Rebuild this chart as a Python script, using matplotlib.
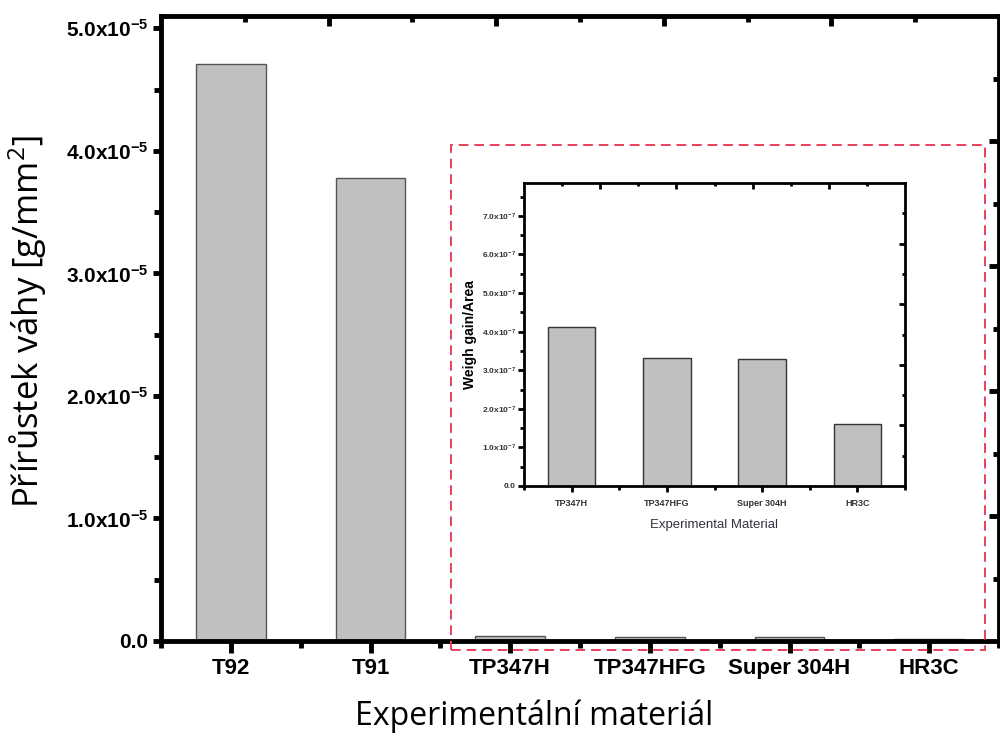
import numpy as np
import matplotlib
matplotlib.use("Agg")
import matplotlib.pyplot as plt
from matplotlib.patches import Rectangle

plt.rcParams["mathtext.default"] = "regular"

# main chart data
materials = ["T92", "T91", "TP347H", "TP347HFG", "Super 304H", "HR3C"]
gain = [4.71e-5, 3.78e-5, 4.12e-7, 3.32e-7, 3.29e-7, 1.61e-7]
yticks = [0, 1e-5, 2e-5, 3e-5, 4e-5, 5e-5]
ytick_labels = ["0.0", "1.0x10$^{-5}$", "2.0x10$^{-5}$", "3.0x10$^{-5}$",
                "4.0x10$^{-5}$", "5.0x10$^{-5}$"]

# inset data
inset_materials = ["TP347H", "TP347HFG", "Super 304H", "HR3C"]
inset_gain = [4.12e-7, 3.32e-7, 3.29e-7, 1.61e-7]
inset_yticks = [0, 1e-7, 2e-7, 3e-7, 4e-7, 5e-7, 6e-7, 7e-7]
inset_ytick_labels = ["0.0"] + [f"{v}.0x10$^{{-7}}$" for v in range(1, 8)]

BAR = "#c0c0c0"
EDGE = "#555555"
TICKFONT = "Liberation Sans"
LABELFONT = "Open Sans"


def frame_ticks(ax, lw, major_len, minor_len):
    # Origin-style inward ticks on top/right at tenths of the frame
    axr = ax.twinx()
    axr.set_ylim(0, 1)
    axt = ax.twiny()
    axt.set_xlim(0, 1)
    for a in (axr, axt):
        for s in a.spines.values():
            s.set_visible(False)
    axr.set_yticks([0.2, 0.4, 0.6, 0.8])
    axr.set_yticks([0.1, 0.3, 0.5, 0.7, 0.9], minor=True)
    axr.set_yticklabels([])
    axt.set_xticks([0.2, 0.4, 0.6, 0.8])
    axt.set_xticks([0.1, 0.3, 0.5, 0.7, 0.9], minor=True)
    axt.set_xticklabels([])
    axr.tick_params(axis="y", which="both", direction="in", width=lw, right=True, left=False)
    axr.tick_params(axis="y", which="major", length=major_len)
    axr.tick_params(axis="y", which="minor", length=minor_len)
    axt.tick_params(axis="x", which="both", direction="in", width=lw, top=True, bottom=False)
    axt.tick_params(axis="x", which="major", length=major_len)
    axt.tick_params(axis="x", which="minor", length=minor_len)


fig = plt.figure(figsize=(10, 7.37), dpi=100)

ax = fig.add_axes([0.161, 96 / 737, 0.838, 625 / 737])
x = np.arange(len(materials))
ax.bar(x, gain, width=0.5, color=BAR, edgecolor=EDGE, linewidth=1.0, zorder=2)
ax.set_xlim(-0.5, 5.5)
ax.set_ylim(0, 5.1e-5)
ax.set_xticks(x)
ax.set_xticklabels(materials, fontfamily=TICKFONT, fontweight="bold", fontsize=16)
ax.set_xticks(np.arange(-0.5, 5.6, 1), minor=True)
ax.set_yticks(yticks)
ax.set_yticklabels(ytick_labels, fontfamily=TICKFONT, fontweight="bold", fontsize=15)
ax.set_yticks(np.arange(0.5e-5, 5e-5, 1e-5), minor=True)
for s in ax.spines.values():
    s.set_linewidth(3.5)
ax.tick_params(axis="x", which="major", direction="out", length=8.5, width=3.5, pad=4)
ax.tick_params(axis="x", which="minor", direction="out", length=5, width=3.5)
ax.tick_params(axis="y", which="major", direction="out", length=6, width=3.5, pad=3)
ax.tick_params(axis="y", which="minor", direction="out", length=5, width=3.5)
frame_ticks(ax, 3.5, 7, 4)

fig.text(0.534, 1 - 716 / 737, "Experimentální materiál", fontfamily=LABELFONT,
         fontsize=23, ha="center", va="center")
fig.text(0.028, 1 - 322 / 737, "Přírůstek váhy [g/mm$^2$]", fontfamily=LABELFONT,
         fontsize=25, ha="center", va="center", rotation=90)

# red dashed frame around the small values
fig.patches.append(Rectangle((451 / 1000, 1 - 650 / 737), 534 / 1000, 505 / 737,
                             transform=fig.transFigure, fill=False,
                             edgecolor="#e8405a", linewidth=1.4,
                             linestyle=(0, (5, 3)), zorder=5))

# inset
axin = fig.add_axes([0.524, 251 / 737, 0.381, 303 / 737])
xi = np.arange(len(inset_materials))
axin.bar(xi, inset_gain, width=0.5, color=BAR, edgecolor="#333333", linewidth=1.0)
axin.set_xlim(-0.5, 3.5)
axin.set_ylim(0, 7.85e-7)
axin.set_xticks(xi)
axin.set_xticklabels(inset_materials, fontfamily=TICKFONT, fontweight="bold",
                     fontsize=6.5, color="#333333")
axin.set_xticks(np.arange(-0.5, 3.6, 1), minor=True)
axin.set_yticks(inset_yticks)
axin.set_yticklabels(inset_ytick_labels, fontfamily=TICKFONT, fontweight="bold",
                     fontsize=6, color="#333333")
axin.set_yticks(np.arange(0.5e-7, 7.6e-7, 1e-7), minor=True)
for s in axin.spines.values():
    s.set_linewidth(2)
axin.tick_params(axis="both", which="major", direction="out", length=4, width=2, pad=2)
axin.tick_params(axis="x", which="major", pad=5)
axin.tick_params(axis="both", which="minor", direction="out", length=3, width=2)
frame_ticks(axin, 2, 4, 2.5)
axin.set_xlabel("Experimental Material", fontfamily=TICKFONT, fontsize=9.5,
                color="#333344", labelpad=8)
axin.set_ylabel("Weigh gain/Area", fontfamily=TICKFONT, fontweight="bold",
                fontsize=10, labelpad=3)

fig.savefig("out.png", dpi=100)
